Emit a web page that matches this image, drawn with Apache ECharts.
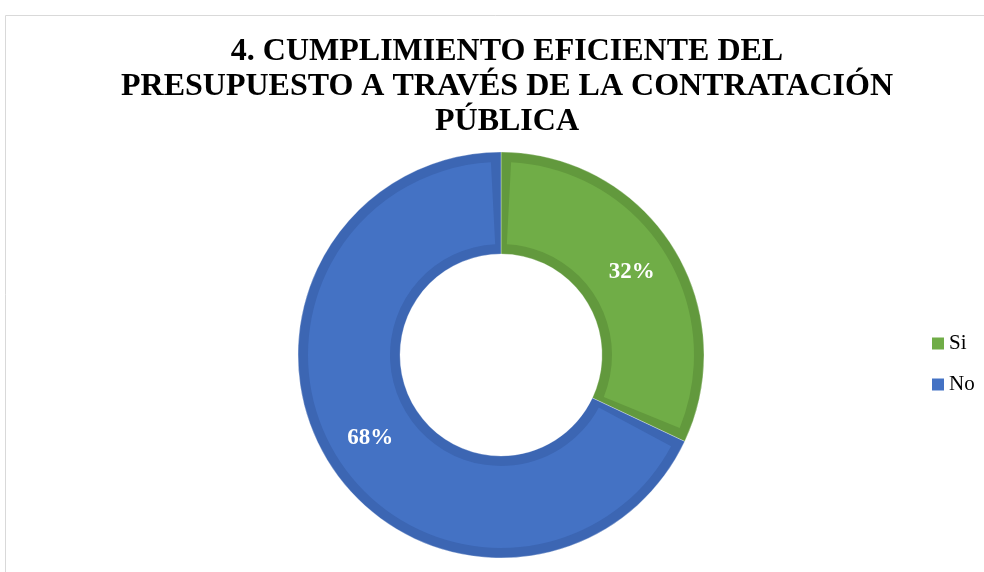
<!DOCTYPE html>
<html>
<head>
<meta charset="utf-8">
<script src="https://cdn.jsdelivr.net/npm/echarts@6/dist/echarts.min.js"></script>
<style>
  html, body { margin: 0; padding: 0; background: #fff; }
  #chart { width: 984px; height: 572px; }
</style>
</head>
<body>
<div id="chart"></div>
<script>
// data
var categories = ['Si', 'No'];
var values = [32, 68];
var fillColors = ['#70AD47', '#4472C4'];
var edgeColors = ['#62993D', '#3C66B3'];
var titleText = '4. CUMPLIMIENTO EFICIENTE DEL\nPRESUPUESTO A TRAVÉS DE LA CONTRATACIÓN\nPÚBLICA';

var serif = '"Liberation Serif", "DejaVu Serif", serif';

function pieData(colors) {
  var out = [];
  for (var i = 0; i < categories.length; i++) {
    out.push({ name: categories[i], value: values[i], itemStyle: { color: colors[i] } });
  }
  return out;
}

var chart = echarts.init(document.getElementById('chart'));
var option = {
  animation: false,
  graphic: [{
    type: 'rect',
    shape: { x: 5.5, y: 15.5, width: 1000, height: 600 },
    style: { fill: 'none', stroke: '#d9d9d9', lineWidth: 1 },
    z: -1
  }],
  title: {
    text: titleText,
    left: 502,
    top: 29,
    textAlign: 'center',
    textStyle: {
      fontFamily: serif,
      fontWeight: 'bold',
      fontSize: 32,
      lineHeight: 35,
      color: '#000'
    }
  },
  legend: {
    orient: 'vertical',
    left: 927,
    top: 328,
    itemWidth: 12,
    itemHeight: 12,
    itemGap: 20,
    icon: 'rect',
    data: categories,
    textStyle: { fontFamily: serif, fontSize: 21, color: '#000' }
  },
  series: [
    {
      // inner lighter part
      name: 'fill',
      type: 'pie',
      z: 3,
      center: [501, 355],
      radius: [111, 193],
      startAngle: 90,
      clockwise: true,
      padAngle: 6,
      data: pieData(fillColors),
      label: {
        show: true,
        position: 'inside',
        formatter: '{d}%',
        color: '#fff',
        fontFamily: serif,
        fontWeight: 'bold',
        fontSize: 23
      },
      labelLine: { show: false },
      emphasis: { disabled: true }
    },
    {
      // darker rim around each slice
      name: 'rim',
      type: 'pie',
      z: 2,
      silent: true,
      center: [501, 355],
      radius: [101, 203],
      startAngle: 90,
      clockwise: true,
      data: pieData(edgeColors),
      itemStyle: { borderColor: 'rgba(255,255,255,0.5)', borderWidth: 0.6 },
      label: { show: false },
      labelLine: { show: false },
      emphasis: { disabled: true }
    }
  ]
};
chart.setOption(option);
</script>
</body>
</html>
